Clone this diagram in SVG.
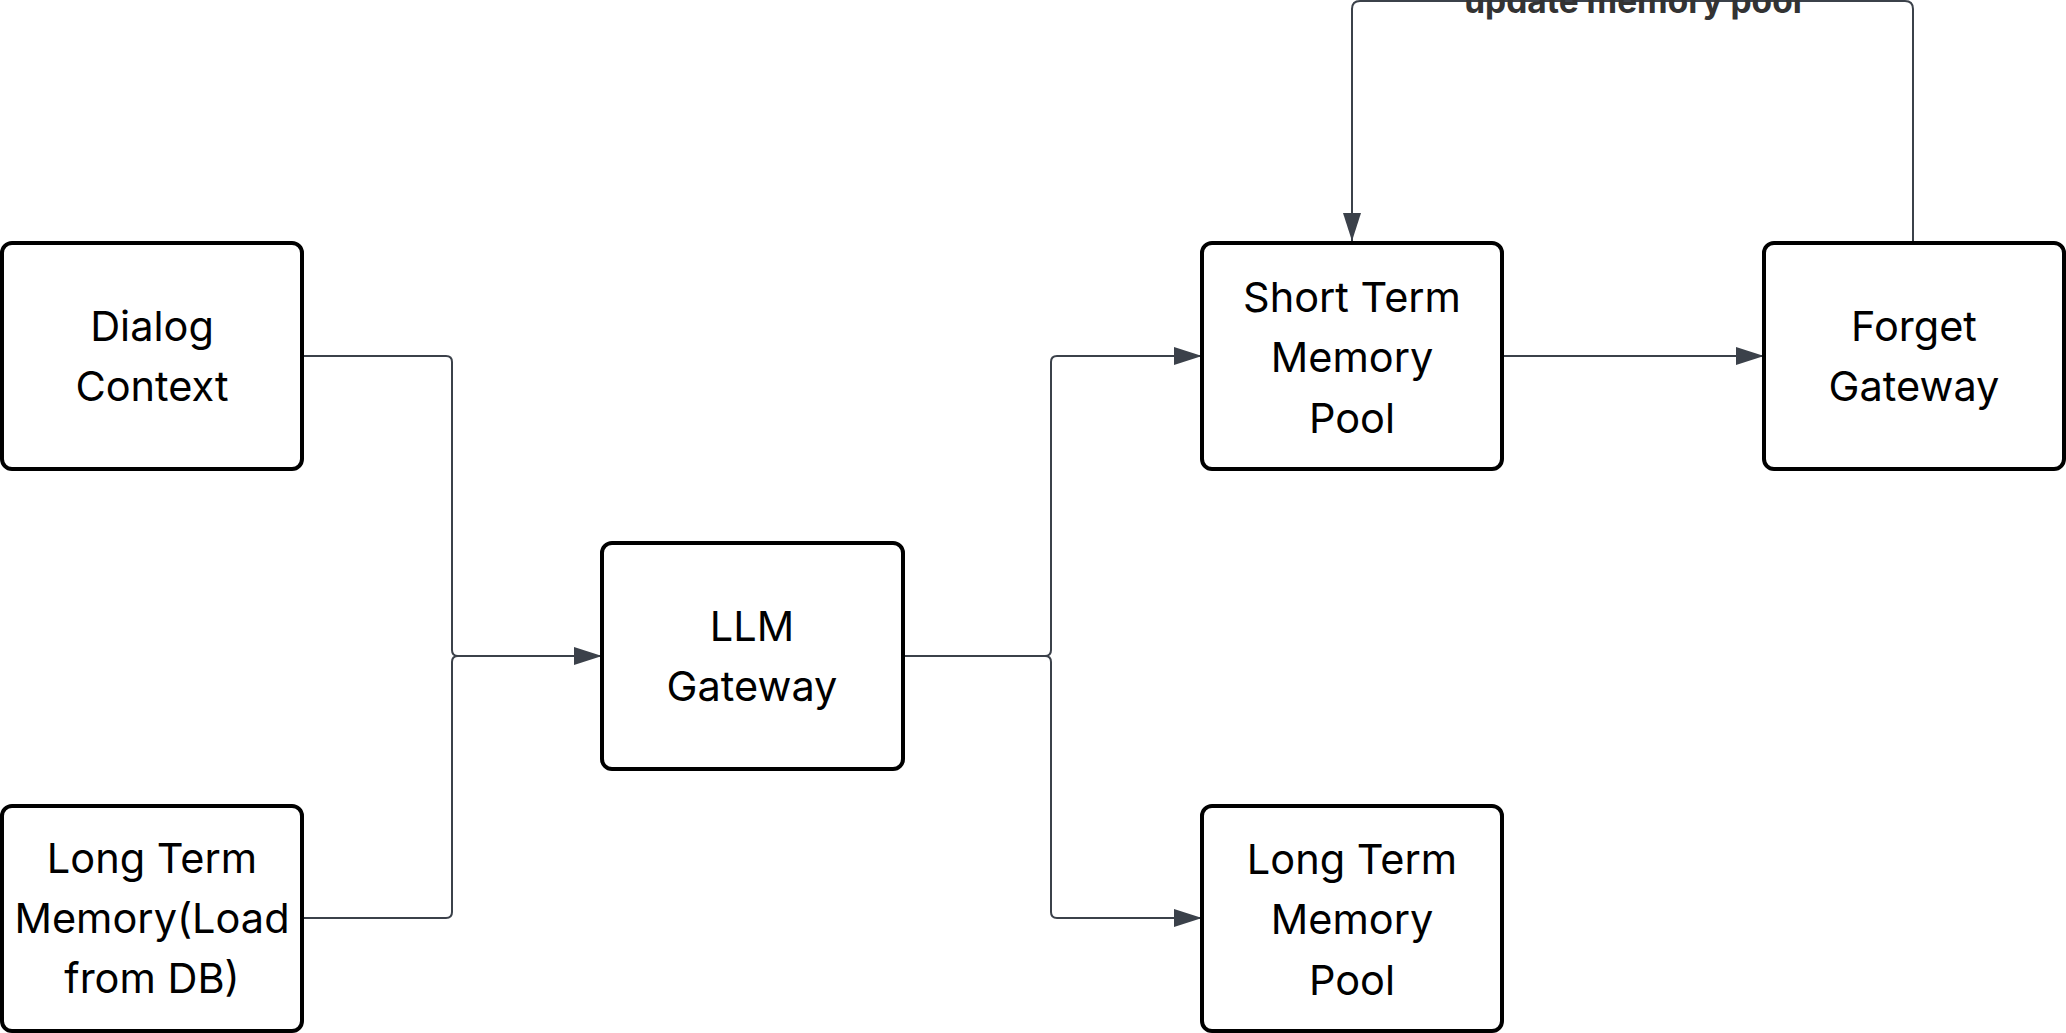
<svg xmlns="http://www.w3.org/2000/svg" width="2066" height="1033" viewBox="0 0 2066 1033">
<style>
.node rect{fill:#fff;stroke:#000;stroke-width:4}
.node text{font-family:Inter,"Noto Sans","Liberation Sans",sans-serif;font-size:41.5px;fill:#000;text-anchor:middle;dominant-baseline:central}
.edge{fill:none;stroke:#3b414a;stroke-width:2}
.lbl{font-family:Inter,"Noto Sans","Liberation Sans",sans-serif;font-size:33.5px;font-weight:700;fill:#333;text-anchor:middle}
</style>
<defs>
<marker id="arr" viewBox="0 0 28 18" refX="28" refY="9" markerWidth="28" markerHeight="18" markerUnits="userSpaceOnUse" orient="auto">
<path d="M0,0 L28,9 L0,18 Z" fill="#3b414a"/>
</marker>
</defs>
<g id="connectors">
<path class="edge" d="M302,356 H446 Q452,356 452,362 V650 Q452,656 458,656 H602" marker-end="url(#arr)"/>
<path class="edge" d="M302,918 H446 Q452,918 452,912 V662 Q452,656 458,656 H602"/>
<path class="edge" d="M903,656 H1045 Q1051,656 1051,650 V362 Q1051,356 1057,356 H1202" marker-end="url(#arr)"/>
<path class="edge" d="M903,656 H1045 Q1051,656 1051,662 V912 Q1051,918 1057,918 H1202" marker-end="url(#arr)"/>
<path class="edge" d="M1502,356 H1764" marker-end="url(#arr)"/>
<path class="edge" d="M1913,243 V9 Q1913,1 1905,1 H1360 Q1352,1 1352,9 V241" marker-end="url(#arr)"/>
<text class="lbl" x="1633" y="13">update memory pool</text>
</g>
<g id="dialog-context" class="node">
<rect x="2" y="243" width="300" height="226" rx="10"/>
<text x="152" y="326">Dialog</text>
<text x="152" y="386">Context</text>
</g>
<g id="long-term-memory-load" class="node">
<rect x="2" y="806" width="300" height="225" rx="10"/>
<text x="152" y="858">Long Term</text>
<text x="152" y="918">Memory(Load</text>
<text x="152" y="978">from DB)</text>
</g>
<g id="llm-gateway" class="node">
<rect x="602" y="543" width="301" height="226" rx="10"/>
<text x="752" y="626">LLM</text>
<text x="752" y="686">Gateway</text>
</g>
<g id="short-term-memory-pool" class="node">
<rect x="1202" y="243" width="300" height="226" rx="10"/>
<text x="1352" y="297">Short Term</text>
<text x="1352" y="357">Memory</text>
<text x="1352" y="418">Pool</text>
</g>
<g id="forget-gateway" class="node">
<rect x="1764" y="243" width="300" height="226" rx="10"/>
<text x="1914" y="326">Forget</text>
<text x="1914" y="386">Gateway</text>
</g>
<g id="long-term-memory-pool" class="node">
<rect x="1202" y="806" width="300" height="225" rx="10"/>
<text x="1352" y="859">Long Term</text>
<text x="1352" y="919">Memory</text>
<text x="1352" y="980">Pool</text>
</g>
</svg>
